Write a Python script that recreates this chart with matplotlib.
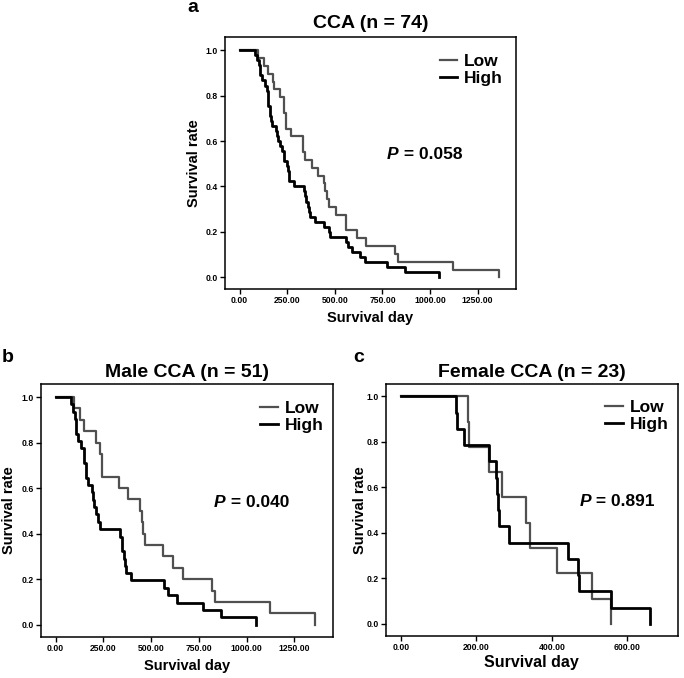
import matplotlib
matplotlib.use("Agg")
import matplotlib.pyplot as plt

plt.rcParams['font.family'] = ['Liberation Sans', 'DejaVu Sans']
plt.rcParams['font.weight'] = 'bold'

# panel a: all CCA (n = 74)
a_low_days = [95, 126, 147, 177, 181, 213, 233, 234, 242, 245, 268, 332, 332, 342, 379,
              413, 441, 450, 458, 467, 506, 558, 560, 616, 665, 817, 834, 1123, 1360]
a_low_surv = [0.966, 0.931, 0.897, 0.862, 0.828, 0.793, 0.759, 0.724, 0.690, 0.655, 0.621,
              0.586, 0.552, 0.517, 0.483, 0.448, 0.414, 0.379, 0.345, 0.310, 0.276, 0.241,
              0.207, 0.172, 0.138, 0.103, 0.069, 0.034, 0.0]
a_high_days = [82, 91, 100, 105, 108, 117, 135, 146, 147, 149, 150, 157, 160, 167, 170, 191,
               195, 201, 213, 220, 231, 232, 251, 254, 257, 261, 287, 336, 345, 350, 357, 362,
               368, 397, 444, 468, 473, 558, 567, 589, 633, 660, 773, 866, 1048]
a_high_surv = [0.978, 0.956, 0.933, 0.911, 0.889, 0.867, 0.844, 0.822, 0.800, 0.778, 0.756,
               0.733, 0.711, 0.689, 0.667, 0.644, 0.622, 0.600, 0.578, 0.556, 0.533, 0.511,
               0.489, 0.467, 0.444, 0.422, 0.400, 0.378, 0.356, 0.333, 0.311, 0.289, 0.267,
               0.244, 0.222, 0.200, 0.178, 0.156, 0.133, 0.111, 0.089, 0.067, 0.044, 0.022, 0.0]

# panel b: male CCA (n = 51)
b_low_days = [95, 126, 147, 213, 234, 242, 245, 332, 379, 441, 450, 458, 467, 560, 616, 665,
              817, 834, 1123, 1360]
b_low_surv = [0.95, 0.90, 0.85, 0.80, 0.75, 0.70, 0.65, 0.60, 0.55, 0.50, 0.45, 0.40, 0.35,
              0.30, 0.25, 0.20, 0.15, 0.10, 0.05, 0.0]
b_high_days = [82, 91, 100, 105, 108, 117, 135, 147, 150, 157, 160, 170, 191, 195, 201, 213,
               220, 231, 336, 345, 350, 357, 362, 368, 397, 567, 589, 633, 773, 866, 1048]
b_high_surv = [0.968, 0.935, 0.903, 0.871, 0.839, 0.806, 0.774, 0.742, 0.710, 0.677, 0.645,
               0.613, 0.581, 0.548, 0.516, 0.484, 0.452, 0.419, 0.387, 0.355, 0.323, 0.290,
               0.258, 0.226, 0.194, 0.161, 0.129, 0.097, 0.065, 0.032, 0.0]

# panel c: female CCA (n = 23)
c_low_days = [177, 181, 233, 268, 332, 342, 413, 506, 558]
c_low_surv = [0.889, 0.778, 0.667, 0.556, 0.444, 0.333, 0.222, 0.111, 0.0]
c_high_days = [146, 149, 167, 232, 251, 254, 257, 261, 287, 444, 468, 473, 558, 660]
c_high_surv = [0.929, 0.857, 0.786, 0.714, 0.643, 0.571, 0.500, 0.429, 0.357, 0.286, 0.214,
               0.143, 0.071, 0.0]

long_ticks = [0, 250, 500, 750, 1000, 1250]
long_labels = ['0.00', '250.00', '500.00', '750.00', '1000.00', '1250.00']
short_ticks = [0, 200, 400, 600]
short_labels = ['0.00', '200.00', '400.00', '600.00']
y_ticks = [0.0, 0.2, 0.4, 0.6, 0.8, 1.0]
y_labels = ['0.0', '0.2', '0.4', '0.6', '0.8', '1.0']

LOW_COLOR = '#505050'
HIGH_COLOR = '#000000'
TICK_FONT = ['Liberation Sans Narrow', 'Liberation Sans']

fig = plt.figure(figsize=(6.84, 6.78), dpi=100)


def km_panel(rect, low_d, low_s, high_d, high_s, xlim, xticks, xlabels, title, title_pad,
             p_value, p_pos, leg_right, ylab_x, xlab_y, xlab_size):
    ax = fig.add_axes(rect)
    ax.step([0] + low_d, [1.0] + low_s, where='post', color=LOW_COLOR, lw=1.6, label='Low')
    ax.step([0] + high_d, [1.0] + high_s, where='post', color=HIGH_COLOR, lw=2.0, label='High')

    ax.set_xlim(*xlim)
    ax.set_ylim(-0.053, 1.056)
    ax.set_xticks(xticks, xlabels, fontfamily=TICK_FONT, fontweight='bold', fontsize=6.2)
    ax.set_yticks(y_ticks, y_labels, fontfamily=TICK_FONT, fontweight='bold', fontsize=6.2)
    ax.tick_params(direction='out', length=3.5, width=1.0, pad=1.5, color='black')
    for sp in ax.spines.values():
        sp.set_linewidth(1.1)
        sp.set_color('black')

    ax.set_title(title, fontsize=14, fontweight='bold', pad=title_pad)
    ax.set_ylabel('Survival rate', fontsize=10.5, fontweight='bold')
    ax.yaxis.set_label_coords(ylab_x, 0.5)
    ax.set_xlabel('Survival day', fontsize=xlab_size, fontweight='bold')
    ax.xaxis.set_label_coords(0.5, xlab_y)

    ax.legend(loc='upper right', bbox_to_anchor=(leg_right, 0.935), frameon=False,
              borderaxespad=0, borderpad=0, handlelength=1.0, handletextpad=0.4,
              labelspacing=0.1, prop={'size': 12.5, 'weight': 'bold'})

    p = ax.text(p_pos[0], p_pos[1], 'P', transform=ax.transAxes, fontsize=12.5,
                fontweight='bold', fontstyle='italic', ha='left', va='center')
    ax.annotate(' = ' + p_value, xy=(1, 0.5), xycoords=p, fontsize=12.5,
                fontweight='bold', ha='left', va='center')
    return ax


km_panel([0.3289, 0.5733, 0.4254, 0.3714], a_low_days, a_low_surv, a_high_days, a_high_surv,
         (-77, 1451), long_ticks, long_labels, 'CCA (n = 74)', 6.5,
         '0.058', (0.557, 0.535), 0.955, -0.082, -0.088, 10.5)
km_panel([0.0599, 0.0609, 0.4265, 0.3723], b_low_days, b_low_surv, b_high_days, b_high_surv,
         (-77, 1451), long_ticks, long_labels, 'Male CCA (n = 51)', 5.0,
         '0.040', (0.593, 0.531), 0.968, -0.086, -0.088, 10.5)
km_panel([0.5639, 0.0619, 0.4273, 0.3723], c_low_days, c_low_surv, c_high_days, c_high_surv,
         (-40.6, 734.4), short_ticks, short_labels, 'Female CCA (n = 23)', 5.0,
         '0.891', (0.662, 0.531), 0.967, -0.064, -0.075, 11.5)

fig.text(187 / 684, 1 - 12 / 678, 'a', fontsize=14, fontweight='bold', va='baseline')
fig.text(2 / 684, 1 - 362 / 678, 'b', fontsize=14, fontweight='bold', va='baseline')
fig.text(353 / 684, 1 - 362 / 678, 'c', fontsize=14, fontweight='bold', va='baseline')

fig.savefig('out.png', dpi=100)
